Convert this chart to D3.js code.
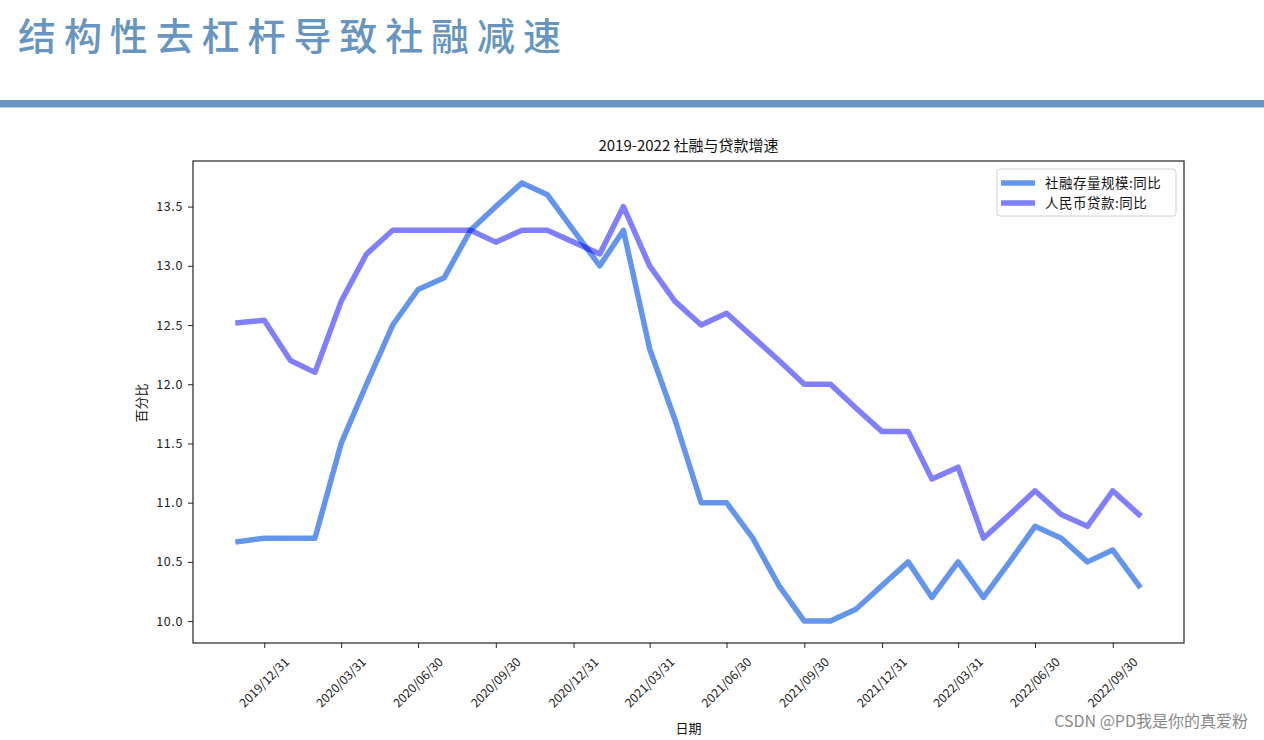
<!DOCTYPE html>
<html>
<head>
<meta charset="utf-8">
<script src="https://cdn.jsdelivr.net/npm/d3@7"></script>
<style>
  html, body { margin: 0; padding: 0; background: #fff; overflow: hidden; }
  svg { display: block; }
  text { font-family: "Noto Sans CJK SC", "Noto Sans", sans-serif; }
</style>
</head>
<body>
<svg id="chart" width="1264" height="740"></svg>
<script>
// ---- data ----
const pageTitle = "结构性去杠杆导致社融减速";
const chartTitle = "2019-2022 社融与贷款增速";
const yLabel = "百分比";
const xLabel = "日期";
const watermark = "CSDN @PD我是你的真爱粉";
const seriesNames = ["社融存量规模:同比", "人民币贷款:同比"];
const dates = [
  "2019-11-30","2019-12-31","2020-01-31","2020-02-29","2020-03-31","2020-04-30",
  "2020-05-31","2020-06-30","2020-07-31","2020-08-31","2020-09-30","2020-10-31",
  "2020-11-30","2020-12-31","2021-01-31","2021-02-28","2021-03-31","2021-04-30",
  "2021-05-31","2021-06-30","2021-07-31","2021-08-31","2021-09-30","2021-10-31",
  "2021-11-30","2021-12-31","2022-01-31","2022-02-28","2022-03-31","2022-04-30",
  "2022-05-31","2022-06-30","2022-07-31","2022-08-31","2022-09-30","2022-10-31"
];
const socialFinancing = [
  10.67, 10.7, 10.7, 10.7, 11.5, 12.0,
  12.5, 12.8, 12.9, 13.3, 13.5, 13.7,
  13.6, 13.3, 13.0, 13.3, 12.3, 11.7,
  11.0, 11.0, 10.7, 10.3, 10.0, 10.0,
  10.1, 10.3, 10.5, 10.2, 10.5, 10.2,
  10.5, 10.8, 10.7, 10.5, 10.6, 10.3
];
const rmbLoans = [
  12.52, 12.54, 12.2, 12.1, 12.7, 13.1,
  13.3, 13.3, 13.3, 13.3, 13.2, 13.3,
  13.3, 13.2, 13.1, 13.5, 13.0, 12.7,
  12.5, 12.6, 12.4, 12.2, 12.0, 12.0,
  11.8, 11.6, 11.6, 11.2, 11.3, 10.7,
  10.9, 11.1, 10.9, 10.8, 11.1, 10.9
];
const xTickDates = [
  "2019-12-31","2020-03-31","2020-06-30","2020-09-30","2020-12-31","2021-03-31",
  "2021-06-30","2021-09-30","2021-12-31","2022-03-31","2022-06-30","2022-09-30"
];
const yTicks = [10.0, 10.5, 11.0, 11.5, 12.0, 12.5, 13.0, 13.5];

// ---- drawing ----
const svg = d3.select("#chart");
const parse = d3.timeParse("%Y-%m-%d");
const fmt = d3.timeFormat("%Y/%m/%d");
const xs = dates.map(parse);

// page header
svg.append("text")
  .attr("x", 18).attr("y", 50)
  .attr("fill", "#6795c0")
  .attr("font-size", 38)
  .attr("font-weight", 500)
  .attr("letter-spacing", "7.9px")
  .text(pageTitle);
svg.append("rect")
  .attr("x", 0).attr("y", 100).attr("width", 1264).attr("height", 7.5)
  .attr("fill", "#6795c0");

const L = 193, R = 1184, T = 161, B = 643;

const tMin = d3.min(xs), tMax = d3.max(xs);
const tPad = (tMax - tMin) * 0.05;
const x = d3.scaleTime()
  .domain([new Date(+tMin - tPad), new Date(+tMax + tPad)])
  .range([L, R]);

const allV = socialFinancing.concat(rmbLoans);
const vMin = d3.min(allV), vMax = d3.max(allV);
const vPad = (vMax - vMin) * 0.05;
const y = d3.scaleLinear().domain([vMin - vPad, vMax + vPad]).range([B, T]);

// title
svg.append("text")
  .attr("x", (L + R) / 2).attr("y", 151)
  .attr("text-anchor", "middle")
  .attr("font-size", 15)
  .attr("fill", "#111")
  .text(chartTitle);

// axes
const yAxis = d3.axisLeft(y).tickValues(yTicks).tickFormat(d3.format(".1f")).tickSize(5).tickPadding(5);
const gy = svg.append("g").attr("transform", `translate(${L},0)`).call(yAxis);
gy.select(".domain").remove();
gy.selectAll(".tick line").attr("stroke", "#222");
gy.selectAll(".tick text").attr("font-size", 12.5).attr("fill", "#222")
  .attr("letter-spacing", "0.6px")
  .attr("font-family", "\"Noto Sans CJK SC\", sans-serif");

const xAxis = d3.axisBottom(x).tickValues(xTickDates.map(parse)).tickFormat(fmt).tickSize(5).tickPadding(0);
const gx = svg.append("g").attr("transform", `translate(0,${B})`).call(xAxis);
gx.select(".domain").remove();
gx.selectAll(".tick line").attr("stroke", "#222");
gx.selectAll(".tick text")
  .attr("font-size", 12.3).attr("fill", "#222")
  .attr("y", 0).attr("dy", null)
  .attr("text-anchor", "middle")
  .attr("dominant-baseline", "central")
  .attr("transform", "translate(-1,39) rotate(-45)");

// frame
svg.append("rect")
  .attr("x", L).attr("y", T).attr("width", R - L).attr("height", B - T)
  .attr("fill", "none").attr("stroke", "#222").attr("stroke-width", 1.2);

// y label
svg.append("text")
  .attr("transform", `translate(146,403) rotate(-90)`)
  .attr("text-anchor", "middle")
  .attr("font-size", 13)
  .attr("fill", "#111")
  .text(yLabel);

// x label (near bottom edge, as in the reference)
svg.append("text")
  .attr("x", (L + R) / 2).attr("y", 733)
  .attr("text-anchor", "middle")
  .attr("font-size", 13)
  .attr("fill", "#111")
  .text(xLabel);

// lines
const colors = ["#6495ED", "#0000ff"];
const opac = [1, 0.5];
const seriesData = [socialFinancing, rmbLoans];
const line = d3.line().x((d, i) => x(xs[i])).y(d => y(d));
seriesData.forEach((s, k) => {
  svg.append("path")
    .datum(s)
    .attr("d", line)
    .attr("fill", "none")
    .attr("stroke", colors[k])
    .attr("stroke-opacity", opac[k])
    .attr("stroke-width", 5.5)
    .attr("stroke-linejoin", "round")
    .attr("stroke-linecap", "square");
});

// legend
const lg = svg.append("g");
lg.append("rect")
  .attr("x", 997).attr("y", 169).attr("width", 179).attr("height", 47)
  .attr("rx", 3).attr("fill", "#fff").attr("fill-opacity", 0.8)
  .attr("stroke", "#d0d0d0").attr("stroke-width", 1);
seriesNames.forEach((n, k) => {
  const yy = 183 + k * 20;
  lg.append("line")
    .attr("x1", 1001).attr("x2", 1035).attr("y1", yy).attr("y2", yy)
    .attr("stroke", colors[k]).attr("stroke-opacity", opac[k]).attr("stroke-width", 5.5);
  lg.append("text")
    .attr("x", 1045).attr("y", yy + 5)
    .attr("font-size", 13.5).attr("fill", "#111")
    .attr("letter-spacing", "0.5px")
    .text(n);
});

// watermark
svg.append("text")
  .attr("x", 1248).attr("y", 727)
  .attr("text-anchor", "end")
  .attr("font-size", 16)
  .attr("fill", "#8a8a8a")
  .attr("font-family", "\"Noto Sans CJK SC\", sans-serif")
  .text(watermark);
</script>
</body>
</html>
